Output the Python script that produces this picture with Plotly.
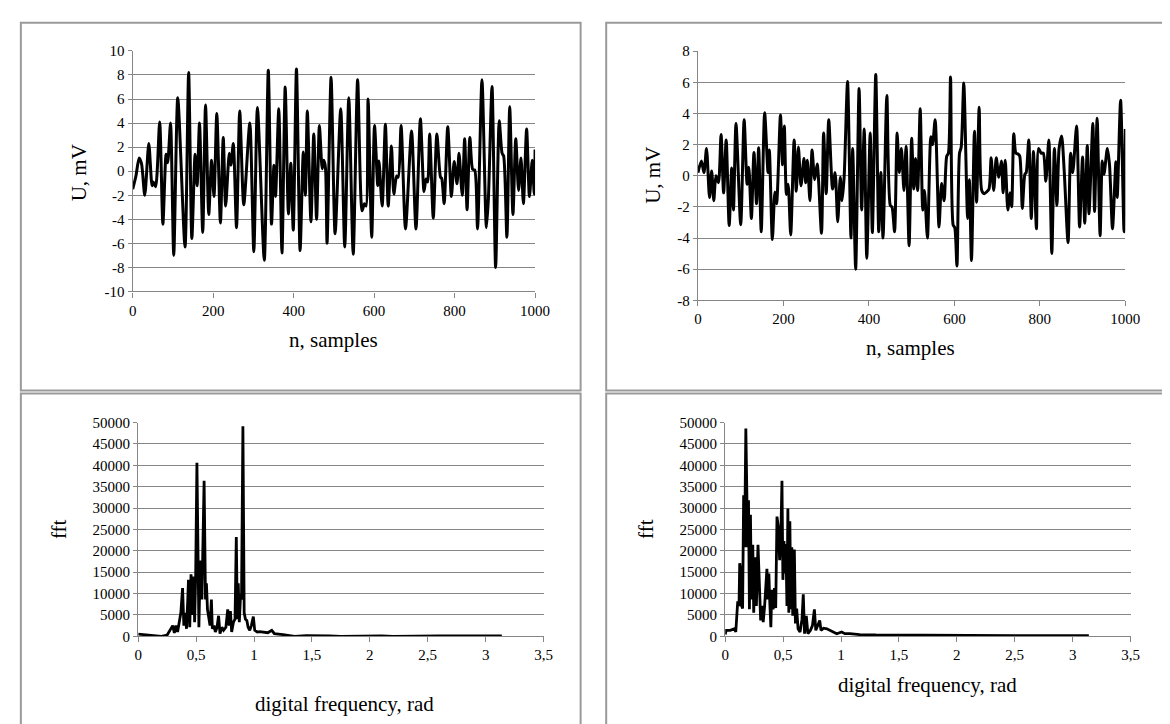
import plotly.graph_objects as go

# ---------------- data ----------------
# Top-left signal: sample index / voltage (mV) turning points
sig1_n = [0, 8, 16, 22, 30, 40, 48, 51, 57, 67, 75, 83, 87, 94, 102, 112, 130, 139, 147, 155,
          160, 166, 174, 181, 189, 196, 202, 209, 218, 225, 231, 240, 244, 250, 258, 266, 276, 291, 301, 310,
          327, 337, 345, 351, 355, 363, 371, 379, 387, 393, 399, 407, 416, 424, 429, 434, 443, 450, 457, 464,
          471, 475, 479, 483, 493, 503, 517, 527, 537, 548, 559, 570, 576, 580, 585, 594, 601, 609, 612, 620,
          628, 635, 643, 649, 656, 660, 667, 678, 693, 704, 715, 724, 729, 733, 738, 747, 756, 765, 768, 774,
          783, 792, 799, 806, 811, 819, 825, 831, 838, 845, 850, 857, 868, 879, 884, 893, 902, 911, 918, 922,
          930, 937, 945, 952, 959, 965, 971, 979, 986, 993, 998, 1000]
sig1_u = [-1.5, -0.4, 1.1, 0.6, -2.0, 2.3, -1.2, -0.9, -1.3, 4.1, -4.4, 1.4, 0.7, 4.0, -7.0, 6.1, -6.3, 8.2, -5.6, 1.4,
          -1.2, 4.0, -5.1, 5.5, -3.6, 0.9, -2.1, 4.8, -4.3, 2.8, -2.9, 1.5, 0.5, 2.3, -4.7, 5.0, -2.8, 4.0, -6.7, 5.3,
          -7.4, 8.4, -4.4, 0.5, -2.1, 5.2, -6.8, 7.0, -3.55, 0.65, -4.9, 8.5, -6.6, 1.6, -2.0, 5.0, -4.2, 3.1, -4.0, 3.8,
          0.2, 0.9, 0.3, -6.0, 7.8, -5.2, 5.2, -6.3, 6.1, -6.9, 7.6, -3.3, -2.7, -2.9, 6.0, -5.5, 3.8, -1.2, 0.85, -2.9,
          3.9, -2.9, 2.1, -1.9, -0.4, -0.5, 3.8, -4.8, 3.35, -4.8, 4.35, -1.7, -0.65, -0.9, 3.1, -3.9, 3.1, -0.5, -0.6, -2.7,
          3.7, -2.1, 0.8, -1.05, 1.5, -2.0, 2.7, -3.2, 2.8, 0.15, 0.1, -4.8, 7.6, -4.7, -2.3, 7.05, -8.0, 4.2, 1.5, 1.25,
          -5.5, 5.35, -3.6, 2.7, -1.6, 1.1, -2.7, 3.5, -2.1, 0.9, -1.9, 1.8]

# Top-right signal
sig2_n = [0, 8, 14, 20, 27, 32, 37, 42, 48, 54, 60, 66, 73, 79, 83, 89, 100, 108, 115, 119,
          125, 131, 137, 142, 148, 156, 164, 167, 174, 180, 184, 193, 198, 202, 207, 211, 217, 225, 230, 235,
          241, 248, 252, 256, 262, 267, 273, 279, 289, 294, 300, 306, 315, 321, 327, 333, 337, 342, 350, 358,
          362, 369, 377, 383, 389, 395, 403, 408, 416, 423, 428, 433, 442, 450, 454, 460, 466, 471, 476, 482,
          487, 494, 500, 505, 509, 514, 520, 526, 530, 537, 545, 549, 555, 564, 570, 576, 582, 586, 591, 597,
          601, 606, 612, 616, 622, 631, 635, 640, 647, 652, 658, 664, 670, 675, 681, 686, 692, 698, 704, 710,
          714, 719, 725, 730, 734, 739, 744, 749, 753, 759, 765, 768, 774, 780, 785, 792, 797, 803, 808, 814,
          821, 828, 834, 840, 845, 851, 857, 866, 872, 877, 886, 893, 900, 905, 911, 915, 924, 928, 934, 941,
          946, 950, 958, 963, 970, 978, 981, 989, 997, 1000]
sig2_u = [0.2, 0.95, 0.2, 1.75, -1.4, 0.3, -1.6, 0.0, -0.45, 2.65, -1.1, 2.3, -3.2, 0.5, -2.2, 3.35, -3.15, 3.6, -0.55, 0.55,
          -2.75, 1.5, -1.8, 1.8, -3.6, 4.05, 0.2, 1.65, -4.1, -1.05, -1.8, 3.9, 0.7, 3.2, -1.2, -0.55, -3.8, 2.3, -1.0, 1.85,
          -0.65, 1.1, -0.45, 1.0, -1.6, 1.65, -0.25, 0.75, -3.7, 2.75, -1.15, 3.6, -0.85, 0.2, -2.95, -0.1, -1.6, -0.1, 6.05, -4.0,
          1.75, -6.0, 5.6, -2.2, 3.0, -5.3, 2.75, -3.65, 6.5, -3.6, 0.2, -4.0, 5.15, -1.9, -2.0, -3.6, 2.75, 0.2, 1.75, -0.95,
          1.9, -4.5, 2.4, -0.85, 1.1, -0.95, 4.3, -2.2, -0.95, -4.0, 2.5, 2.0, 3.6, -3.3, -0.5, -1.6, 1.25, 1.45, 6.35, -3.15,
          -3.35, -5.8, 1.45, 1.85, 5.95, -2.75, -0.25, -5.45, 2.85, -1.7, 4.4, -0.95, -1.15, -1.05, -0.85, 1.15, -0.95, 1.15, -0.1, 0.95,
          -1.1, 1.0, -2.2, -1.1, -2.0, 2.7, 1.45, 1.4, 1.25, -2.1, 0.1, 0.2, 2.3, -2.75, 1.55, -3.4, 1.75, 1.45, 1.45, -0.35,
          2.3, -5.0, 1.75, -1.9, 1.75, 2.55, 0.3, -4.3, 1.45, 0.2, 3.2, -3.3, 1.2, -3.05, 1.95, -2.45, 3.35, -2.3, 3.7, -3.85,
          0.95, 0.1, 1.75, 0.7, -3.4, 0.9, -1.4, 4.85, -3.6, 3.0]

# Bottom-left spectrum: digital frequency (rad) / fft magnitude
fft1_w = [0, 0.05, 0.1, 0.15, 0.2, 0.25, 0.283, 0.298, 0.312, 0.326, 0.34, 0.354, 0.368, 0.383, 0.394, 0.405, 0.417,
          0.428, 0.434, 0.445, 0.456, 0.468, 0.479, 0.487, 0.496, 0.507, 0.516, 0.524, 0.533, 0.541, 0.55, 0.558,
          0.569, 0.581, 0.589, 0.598, 0.609, 0.62, 0.632, 0.64, 0.655, 0.666, 0.68, 0.694, 0.706, 0.722, 0.737,
          0.757, 0.773, 0.785, 0.796, 0.807, 0.822, 0.836, 0.847, 0.856, 0.864, 0.873, 0.884, 0.892, 0.904, 0.915,
          0.926, 0.938, 0.949, 0.963, 0.977, 0.994, 1.006, 1.028, 1.048, 1.077, 1.119, 1.153, 1.176, 1.25, 1.3,
          1.35, 1.45, 1.55, 1.65, 1.75, 1.9, 2.0, 2.1, 2.2, 2.4, 2.6, 2.8, 3.0, 3.14]
fft1_a = [500, 400, 250, 100, 0, 300, 1750, 2500, 800, 2500, 1000, 3300, 5500, 11300, 2500, 5500, 1750,
          8600, 13200, 2100, 14500, 5000, 14000, 3300, 14000, 40600, 8600, 2100, 14000, 17700, 8600, 17700,
          36400, 8600, 12400, 6300, 4800, 2500, 8600, 1750, 2500, 1000, 2000, 4800, 600, 2100, 1400,
          2100, 6300, 2500, 5900, 1000, 3300, 4000, 23200, 4000, 12400, 3300, 9800, 8600, 49100, 5500,
          4000, 3700, 2100, 1400, 2500, 4600, 1400, 1000, 1100, 1000, 840, 1400, 600, 400, 200,
          0, 150, 200, 100, 0, 100, 150, 100, 0, 100, 100, 80, 60, 100]

# Bottom-right spectrum
fft2_w = [0, 0.008, 0.042, 0.079, 0.091, 0.102, 0.108, 0.119, 0.125, 0.133, 0.142, 0.15, 0.159, 0.167, 0.178,
          0.187, 0.192, 0.201, 0.209, 0.218, 0.226, 0.238, 0.246, 0.258, 0.269, 0.283, 0.295, 0.306, 0.317,
          0.328, 0.34, 0.348, 0.36, 0.368, 0.377, 0.385, 0.394, 0.402, 0.413, 0.425, 0.436, 0.447, 0.459, 0.47,
          0.481, 0.49, 0.498, 0.507, 0.515, 0.524, 0.533, 0.541, 0.549, 0.558, 0.567, 0.575, 0.583, 0.597,
          0.606, 0.617, 0.629, 0.646, 0.663, 0.674, 0.685, 0.7, 0.714, 0.736, 0.753, 0.77, 0.782, 0.799, 0.816,
          0.827, 0.85, 0.878, 0.9, 0.934, 0.963, 1.005, 1.034, 1.076, 1.161, 1.3, 1.5, 2.0, 2.5, 3.14]
fft2_a = [400, 1400, 1400, 1750, 1000, 6300, 8200, 7100, 17100, 15500, 7100, 6500, 33000, 20800, 48600,
          33000, 20800, 31800, 6300, 28400, 8600, 21400, 5500, 18500, 7100, 21400, 8600, 3700, 7100,
          3300, 7000, 11800, 15800, 8600, 14700, 7800, 2100, 10900, 6300, 11300, 6600, 28000, 25400, 17800,
          24600, 36400, 13200, 22300, 14700, 21600, 7100, 29900, 5500, 26900, 6300, 20800, 4800, 20300,
          3000, 6500, 1750, 1000, 4000, 9800, 600, 4800, 600, 1400, 2500, 6300, 1400, 2500, 3700,
          1400, 1900, 1750, 1400, 1000, 600, 1000, 600, 600, 400, 300, 250, 200, 150, 150]

sig_ticks = [0, 200, 400, 600, 800, 1000]
u1_ticks = [-10, -8, -6, -4, -2, 0, 2, 4, 6, 8, 10]
u2_ticks = [-8, -6, -4, -2, 0, 2, 4, 6, 8]
fft_ticks = [0, 5000, 10000, 15000, 20000, 25000, 30000, 35000, 40000, 45000, 50000]
w_ticks = [0, 0.5, 1, 1.5, 2, 2.5, 3, 3.5]
w_labels = ["0", "0,5", "1", "1,5", "2", "2,5", "3", "3,5"]

# ---------------- figure ----------------
W, H = 1170, 724
FONT = "Liberation Serif, Times New Roman, DejaVu Serif, serif"
GRID = "#868686"

def px_x(a, b):
    return [a / W, b / W]

def px_y(top, bottom):
    return [1 - bottom / H, 1 - top / H]

fig = go.Figure()
line_sig = dict(color="black", width=3, shape="spline", smoothing=0.7)
line_fft = dict(color="black", width=2.8)
fig.add_trace(go.Scatter(x=sig1_n, y=sig1_u, mode="lines", line=line_sig, xaxis="x", yaxis="y", showlegend=False))
fig.add_trace(go.Scatter(x=sig2_n, y=sig2_u, mode="lines", line=line_sig, xaxis="x2", yaxis="y2", showlegend=False))
fig.add_trace(go.Scatter(x=fft1_w, y=fft1_a, mode="lines", line=line_fft, xaxis="x3", yaxis="y3", showlegend=False))
fig.add_trace(go.Scatter(x=fft2_w, y=fft2_a, mode="lines", line=line_fft, xaxis="x4", yaxis="y4", showlegend=False))

def xax(domain, anchor, rng, tv, tt):
    return dict(domain=domain, anchor=anchor, range=rng, tickvals=tv, ticktext=tt,
                showgrid=False, zeroline=False, showline=True, linecolor=GRID, linewidth=1.3,
                ticks="outside", ticklen=5, tickcolor=GRID, tickwidth=1.3,
                tickfont=dict(family=FONT, size=15, color="black"))

def yax(domain, anchor, rng, tv):
    return dict(domain=domain, anchor=anchor, range=rng, tickvals=tv,
                ticktext=[str(v) for v in tv],
                showgrid=True, gridcolor=GRID, gridwidth=1.3, zeroline=False,
                showline=True, linecolor=GRID, linewidth=1.3,
                ticks="outside", ticklen=4, tickcolor=GRID, tickwidth=1.3,
                tickfont=dict(family=FONT, size=15, color="black"))

fig.update_layout(
    width=W, height=H, margin=dict(l=0, r=0, t=0, b=0),
    paper_bgcolor="white", plot_bgcolor="white",
    xaxis=xax(px_x(122.7, 531.7), "y", [0, 1000], sig_ticks, [str(v) for v in sig_ticks]),
    yaxis=yax(px_y(35.7, 281.7), "x", [-10, 10], u1_ticks),
    xaxis2=xax(px_x(697.3, 1131.7), "y2", [0, 1000], sig_ticks, [str(v) for v in sig_ticks]),
    yaxis2=yax(px_y(36, 290.7), "x2", [-8, 8], u2_ticks),
    xaxis3=xax(px_x(128.3, 540.3), "y3", [0, 3.5], w_ticks, w_labels),
    yaxis3=yax(px_y(415.7, 634.3), "x3", [0, 50000], fft_ticks),
    xaxis4=xax(px_x(725, 1137), "y4", [0, 3.5], w_ticks, w_labels),
    yaxis4=yax(px_y(415.7, 634.3), "x4", [0, 50000], fft_ticks),
)

# panel borders
BORDER = "#9a9a9a"
boxes = [(9, 7, 578, 383), (604, 7, 1190, 383), (9, 386, 578, 740), (604, 386, 1190, 740)]
for (x0, y0, x1, y1) in boxes:
    fig.add_shape(type="rect", xref="paper", yref="paper",
                  x0=x0 / W, x1=x1 / W, y0=1 - y1 / H, y1=1 - y0 / H,
                  line=dict(color=BORDER, width=2), layer="below")

def title(text, x, y, angle=0):
    fig.add_annotation(text=text, xref="paper", yref="paper", x=x / W, y=1 - y / H,
                       xanchor="center", yanchor="middle", showarrow=False, textangle=angle,
                       font=dict(family=FONT, size=21, color="black"))

title("U, mV", 69, 160, -90)
title("n, samples", 326.5, 331.7)
title("U, mV", 652, 163, -90)
title("n, samples", 913, 340)
title("fft", 48.5, 525, -90)
title("digital frequency, rad", 337.7, 703.7)
title("fft", 645, 525, -90)
title("digital frequency, rad", 931, 683.7)

fig.write_html("out.html")
